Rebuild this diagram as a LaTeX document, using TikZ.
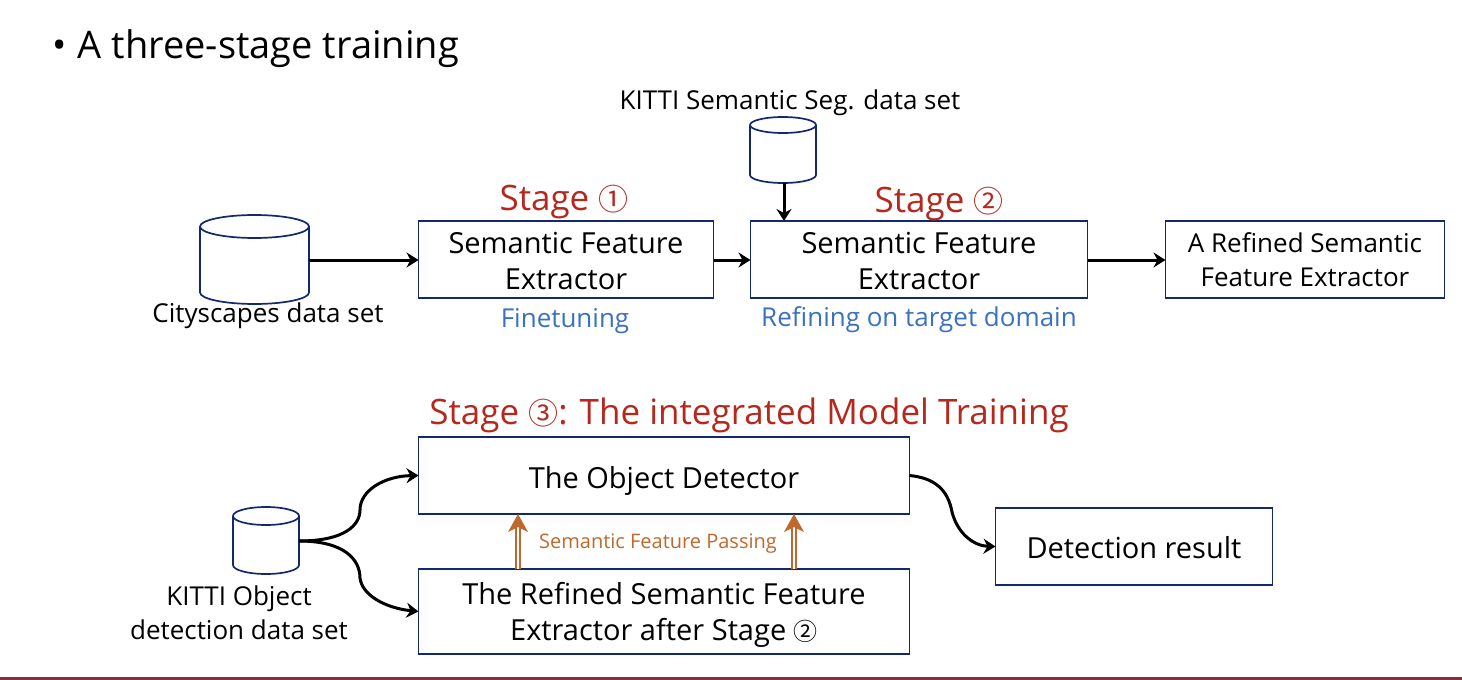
\documentclass[tikz,border=0pt]{standalone}
\usepackage{fontspec}
\setmainfont{Open Sans}
\newfontfamily\symf{Noto Sans CJK SC}
\usetikzlibrary{arrows.meta,calc}
\definecolor{navy}{HTML}{12296B}
\definecolor{stagered}{HTML}{B5281E}
\definecolor{noteblue}{HTML}{3A72BE}
\definecolor{passing}{HTML}{BE6A2E}
\definecolor{rulered}{HTML}{8C2B3C}
\newcommand{\fs}[1]{\fontsize{#1}{#1}\selectfont}
\newcommand{\tall}[1]{\rule{0pt}{#1pt}}
\newcommand{\cylshape}[6]{% name, xl, xr, top, bottom, ry
  \node[minimum width=#3-#2,minimum height=#5-#4,inner sep=0pt,outer sep=0pt,anchor=north west] (#1) at (#2,#4) {};
  \draw[cylline,fill=white] (#2,#4+#6) -- (#2,#5-#6) arc[x radius=(#3-#2)/2,y radius=#6,start angle=180,end angle=0] -- (#3,#4+#6);
  \draw[cylline] (#2,#4+#6) arc[x radius=(#3-#2)/2,y radius=#6,start angle=180,end angle=-180];
}
\tikzset{
  x=1pt,y=-1pt,
  cylline/.style={draw=navy,line width=1.7pt},
  boxn/.style={draw=navy,line width=1.8pt,inner sep=0pt,outer sep=0pt,align=center,text=black,font=\fs{29}},
  flow/.style={-{Stealth[length=12pt,width=15pt,inset=4pt]},line width=3pt},
  pass/.style={draw=passing,line width=1.4pt,double distance=2.6pt},
  lab/.style={inner sep=0pt,outer sep=0pt,text=black,font=\fs{26},align=center},
  stage/.style={inner sep=0pt,text=stagered,font=\fs{35}},
  note/.style={inner sep=0pt,text=noteblue,font=\fs{26}},
}
\newcommand{\boxat}[6]{\node[boxn,minimum width=#3-#2,minimum height=#5-#4,anchor=north west] (#1) at (#2,#4) {#6};}
\begin{document}
\begin{tikzpicture}
\useasboundingbox (0,0) rectangle (1462,680);
\fill[white] (0,0) rectangle (1462,680);
\fill[rulered] (0,677) rectangle (1462,680);
\node[inner sep=0pt,anchor=west,font=\fs{38}] (title) at (52,49) {•\hspace{0.3em}A three-stage training};

\cylshape{cityc}{200}{309}{215}{304}{11.5}
\cylshape{kittis}{750}{816}{117}{183}{8}
\cylshape{kittio}{233}{299}{507}{574}{9}

\boxat{sfe}{418.5}{713.5}{221}{298}{\tall{24}Semantic Feature\\[7pt]Extractor}
\boxat{sfb}{750.5}{1087.5}{221}{298}{\tall{24}Semantic Feature\\[7pt]Extractor}
\boxat{ref}{1165.5}{1444.5}{221}{298}{\fs{26}\tall{21}A Refined Semantic\\[5pt]\fs{26}Feature Extractor}
\boxat{det}{418.5}{909.5}{437}{514}{\tall{32}The Object Detector}
\boxat{rsf}{418.5}{909.5}{569}{654}{\tall{28}The Refined Semantic Feature\\[7pt]Extractor after Stage {\symf\fs{24}②}}
\boxat{res}{995.5}{1272.5}{508}{585}{\tall{24}Detection result}

\node[lab] (citylab) at (268,316) {Cityscapes data set};
\node[lab] (kslab) at (790,103) {KITTI Semantic Seg. data set};
\node[lab] (kolab) at (239,613) {KITTI Object\\[8pt]detection data set};

\node[stage] (st1) at (564,202) {Stage {\symf\fs{30}①}};
\node[stage] (st2) at (939,204) {Stage {\symf\fs{30}②}};
\node[stage] (st3) at (749,415) {Stage {\symf\fs{30}③}: The integrated Model Training};
\node[note] (n1) at (565,321) {Finetuning};
\node[note] (n2) at (919,320) {Refining on target domain};
\node[inner sep=0pt,text=passing,font=\fs{20}] (pl) at (658,544) {Semantic Feature Passing};

\coordinate (pa1) at (518,569);
\coordinate (pa2) at (794,569);
\coordinate (cs) at (299,541);

\draw[flow] (cityc.east |- 0,260) -- (sfe.west |- 0,260);
\draw[flow] (sfe.east |- 0,260) -- (sfb.west |- 0,260);
\draw[flow] (sfb.east |- 0,260) -- (ref.west |- 0,260);
\draw[flow] (kittis.south -| 784,0) -- (sfb.north -| 784,0);
\draw[flow] (cs) .. controls (345,541) and (360,525) .. (360,510) .. controls (360,490) and (385,476) .. (det.west);
\draw[flow] (cs) .. controls (345,541) and (360,560) .. (360,578) .. controls (362,595) and (385,608) .. (rsf.west);
\draw[flow] (det.east) .. controls (935,478) and (948,490) .. (952,512) .. controls (958,535) and (975,546) .. (res.west);
\draw[pass] (pa1) -- (518,526);
\draw[pass] (pa2) -- (794,526);
\fill[passing] (518,514) -- (528,532) -- (518,527) -- (508,532) -- cycle;
\fill[passing] (794,514) -- (804,532) -- (794,527) -- (784,532) -- cycle;
\end{tikzpicture}
\end{document}
